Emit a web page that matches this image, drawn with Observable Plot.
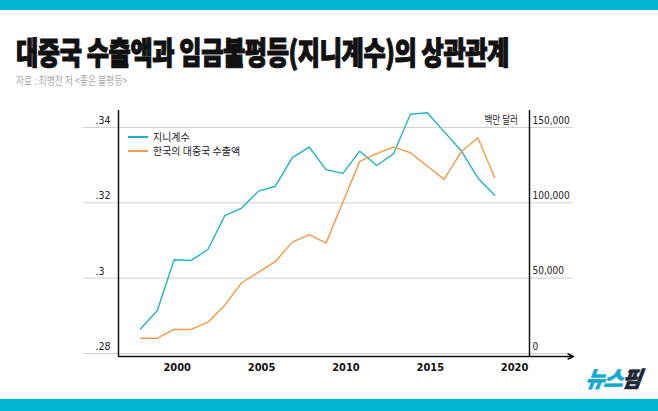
<!DOCTYPE html>
<html>
<head>
<meta charset="utf-8">
<script src="https://cdn.jsdelivr.net/npm/d3@7"></script>
<script src="https://cdn.jsdelivr.net/npm/@observablehq/plot@0.6"></script>
<style>
  html, body { margin: 0; padding: 0; background: #fff; }
  #page { position: relative; width: 658px; height: 411px; overflow: hidden; background: #fff; font-family: "Noto Sans CJK KR", sans-serif; }
  .bar { position: absolute; left: 0; width: 658px; background: #00b6d3; }
  #title { position: absolute; left: 16px; top: 33px; font-size: 31px; line-height: 36px; font-weight: 900; color: #111; white-space: nowrap; transform: scaleX(0.78); transform-origin: left top; letter-spacing: -0.5px; -webkit-text-stroke: 1.1px #111; }
  #sub { position: absolute; left: 16px; top: 73px; font-size: 11px; line-height: 14px; color: #a8a8a8; white-space: nowrap; transform: scaleX(0.8); transform-origin: left top; }
  #chart { position: absolute; left: 0; top: 100px; }
  #legend { position: absolute; left: 128px; top: 130px; font-size: 10.5px; line-height: 14px; color: #222; }
  .li { display: flex; align-items: center; height: 14px; white-space: nowrap; }
  .sw { display: inline-block; width: 20px; height: 1.5px; margin-right: 5px; }
  .lt { display: inline-block; line-height: 12px; transform: scaleX(0.95); transform-origin: left center; }
  #unit { position: absolute; right: 140px; top: 112px; font-size: 11px; line-height: 14px; color: #222; white-space: nowrap; transform: scaleX(0.78); transform-origin: right top; }
  #logo { position: absolute; left: 588px; top: 364px; font-size: 22px; line-height: 26px; font-weight: 900; font-style: italic; white-space: nowrap; transform: skewX(-8deg) scaleX(0.95); transform-origin: left top; letter-spacing: -1px; -webkit-text-stroke: 0.6px currentColor; }
</style>
</head>
<body>
<div id="page">
  <div class="bar" style="top:0;height:10px"></div>
  <div id="title">대중국 수출액과 임금불평등(지니계수)의 상관관계</div>
  <div id="sub">자료 : 최병천 저 &lt;좋은 불평등&gt;</div>
  <div id="chart"></div>
  <div id="legend"></div>
  <div id="unit">백만 달러</div>
  <div id="logo"><span style="color:#14a9d0">뉴스</span><span style="color:#1b2838">핌</span></div>
  <div class="bar" style="top:399px;height:12px"></div>
</div>
<script>
// ---- data ----
const years = [1998,1999,2000,2001,2002,2003,2004,2005,2006,2007,2008,2009,2010,2011,2012,2013,2014,2015,2016,2017,2018,2019];
const gini = [0.2865,0.2914,0.3049,0.3047,0.3076,0.3166,0.3186,0.3231,0.3244,0.3320,0.3348,0.3288,0.3278,0.3337,0.3299,0.3330,0.3435,0.3439,0.3389,0.3339,0.3266,0.3220];
const exportsToChina = [10160,10160,15940,15940,20780,32070,46940,53990,61090,73900,78820,73240,100460,127490,132600,137000,133260,124370,115540,133660,143220,116660];
const seriesNames = ["지니계수", "한국의 대중국 수출액"];
const seriesColors = ["#22b3c3", "#f29a45"];
const xTicks = [2000, 2005, 2010, 2015, 2020];
const giniTicks = [0.28, 0.30, 0.32, 0.34];
const giniTickLabels = [".28", ".3", ".32", ".34"];
const exportTicks = [0, 50000, 100000, 150000];
const exportTickLabels = ["0", "50,000", "100,000", "150,000"];
const unitLabel = "백만 달러";

// right axis shares the frame: 0 ↔ .28, 150,000 ↔ .34
const toGini = v => 0.28 + v / 2.5e6;

const xDomain = [1996.7, 2021.06];
const yDomain = [0.2792, 0.3445];
const gridX = [1994.63, 2023.67];

const giniData = years.map((y, i) => ({year: y, v: gini[i]}));
const expData = years.map((y, i) => ({year: y, v: toGini(exportsToChina[i])}));

const numFont = "'Liberation Sans Narrow', 'DejaVu Sans Condensed', Roboto, sans-serif";

const plot = Plot.plot({
  width: 658,
  height: 299,
  marginLeft: 118,
  marginRight: 129,
  marginTop: 10,
  marginBottom: 43,
  x: {domain: xDomain},
  y: {domain: yDomain},
  style: {fontFamily: numFont, fontSize: "10.5px", color: "#222", background: "transparent", overflow: "visible"},
  marks: [
    Plot.ruleY(giniTicks, {x1: gridX[0], x2: gridX[1], stroke: "#d0d0d0", strokeWidth: 1}),
    Plot.axisY({anchor: "left", ticks: giniTicks, tickSize: 0, label: null,
      tickFormat: d => giniTickLabels[giniTicks.findIndex(t => Math.abs(t - d) < 1e-9)],
      textAnchor: "start", dx: -14, dy: -7, fill: "#222"}),
    Plot.axisY({anchor: "right", ticks: exportTicks.map(toGini), tickSize: 0, label: null,
      tickFormat: d => exportTickLabels[exportTicks.findIndex(t => Math.abs(toGini(t) - d) < 1e-9)],
      textAnchor: "start", dx: -6, dy: -7, fill: "#222", fontSize: 10}),
    Plot.axisX({ticks: xTicks, tickSize: 0, label: null, tickFormat: d => String(d),
      fontWeight: "bold", dx: 3, dy: -2, fill: "#111", fontSize: 11}),
    Plot.line(giniData, {x: "year", y: "v", stroke: seriesColors[0], strokeWidth: 1.4}),
    Plot.line(expData, {x: "year", y: "v", stroke: seriesColors[1], strokeWidth: 1.4}),
    Plot.ruleX(xDomain, {stroke: "#111", strokeWidth: 1.5}),
    Plot.arrow([0], {x1: xDomain[0], x2: gridX[1], y1: yDomain[0], y2: yDomain[0],
      stroke: "#111", strokeWidth: 1.5, headLength: 6, headAngle: 50})
  ]
});
document.getElementById("chart").appendChild(plot);

// legend
const legend = document.getElementById("legend");
seriesNames.forEach((n, i) => {
  const row = document.createElement("div");
  row.className = "li";
  row.innerHTML = `<span class="sw" style="background:${seriesColors[i]}"></span><span class="lt">${n}</span>`;
  legend.appendChild(row);
});
document.getElementById("unit").textContent = unitLabel;
</script>
</body>
</html>
